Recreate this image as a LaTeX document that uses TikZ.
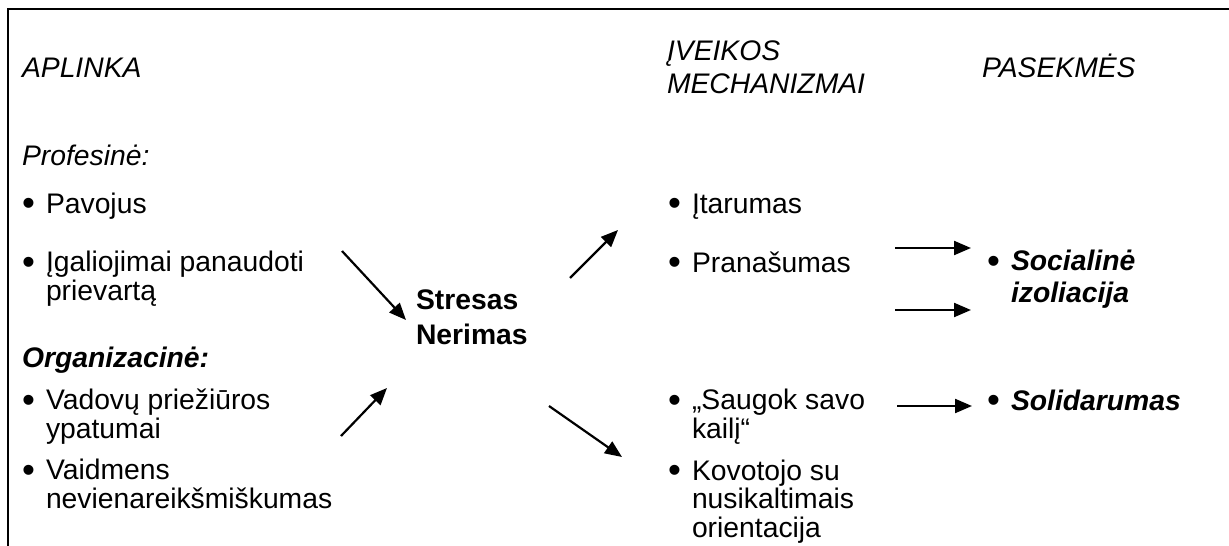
\documentclass[tikz,border=0pt]{standalone}
\usepackage{fontspec}
\setmainfont{Liberation Sans}
\usetikzlibrary{arrows.meta}
\newcommand{\fsz}{\fontsize{28.3}{28.5}\selectfont}
\newcommand{\bul}{\llap{\upshape\mdseries\raisebox{-2.6pt}{\scalebox{1.3}{•}}\hspace{11pt}}}
\tikzset{
  txt/.style={anchor=base west, inner sep=0pt, outer sep=0pt, align=left, font=\fsz},
  ittxt/.style={txt, font=\fsz\itshape},
  bftxt/.style={txt, font=\fsz\bfseries},
  bfittxt/.style={txt, font=\fsz\bfseries\itshape},
  arr/.style={line width=2.2pt, -{Triangle[length=17pt,width=14pt]}},
  frame/.style={line width=2.5pt}
}
\begin{document}
\begin{tikzpicture}[x=1pt,y=-1pt]
\useasboundingbox (0,0) rectangle (1229,546);
\draw[frame] (8,546) -- (8,9) -- (1229,9);
% left column (multi-line nodes are placed by their last baseline)
\node[ittxt] (aplinka) at (22,77) {APLINKA};
\node[ittxt] (profesine) at (22,165) {Profesinė:};
\node[txt] (pavojus) at (46,213) {\bul Pavojus};
\node[txt] (igaliojimai) at (46,300) {\bul Įgaliojimai panaudoti\\prievartą};
\node[bfittxt] (organizacine) at (22,367) {Organizacinė:};
\node[txt] (vadovu) at (46,438) {\bul Vadovų priežiūros\\ypatumai};
\node[txt] (vaidmens) at (46,508) {\bul Vaidmens\\nevienareikšmiškumas};
% centre
\node[bftxt] (stresas) at (416,344) {Stresas\\[6.5pt]Nerimas};
% mechanisms
\node[ittxt] (iveikos) at (667,93) {ĮVEIKOS\\[4pt]MECHANIZMAI};
\node[txt] (itarumas) at (692,213) {\bul Įtarumas};
\node[txt] (pranasumas) at (692,272) {\bul Pranašumas};
\node[txt] (saugok) at (692,438) {\bul „Saugok savo\\kailį“};
\node[txt] (kovotojo) at (692,537) {\bul Kovotojo su\\nusikaltimais\\orientacija};
% consequences
\node[ittxt] (pasekmes) at (982,77) {PASEKMĖS};
\node[bfittxt] (socialine) at (1011,302) {\bul Socialinė\\[3pt]izoliacija};
\node[bfittxt] (solidarumas) at (1011,410) {\bul Solidarumas};
% arrow end points
\coordinate (a1s) at (342,251); \coordinate (a1e) at (406,320);
\coordinate (a2s) at (341,436); \coordinate (a2e) at (387,388);
\coordinate (a3s) at (570,278); \coordinate (a3e) at (618,230);
\coordinate (a4s) at (549,406); \coordinate (a4e) at (622,457);
\coordinate (a5s) at (895,248); \coordinate (a5e) at (971,248);
\coordinate (a6s) at (895,310); \coordinate (a6e) at (971,310);
\coordinate (a7s) at (897,406); \coordinate (a7e) at (972,406);
\draw[arr] (a1s) -- (a1e);
\draw[arr] (a2s) -- (a2e);
\draw[arr] (a3s) -- (a3e);
\draw[arr] (a4s) -- (a4e);
\draw[arr] (a5s) -- (a5e);
\draw[arr] (a6s) -- (a6e);
\draw[arr] (a7s) -- (a7e);
\end{tikzpicture}
\end{document}
